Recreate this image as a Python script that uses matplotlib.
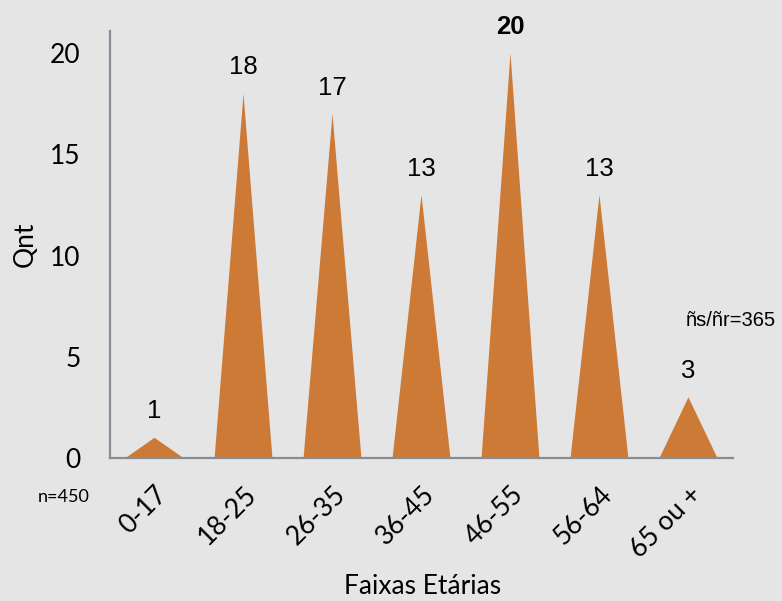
import matplotlib
matplotlib.use("Agg")
import matplotlib.pyplot as plt

# data
faixas = ["0-17", "18-25", "26-35", "36-45", "46-55", "56-64", "65 ou +"]
qnt = [1, 18, 17, 13, 20, 13, 3]
yticks = [0, 5, 10, 15, 20]

bg = "#e5e5e5"
orange = "#cc7a35"
spine = "#868d95"
w = 0.65

fig = plt.figure(figsize=(7.82, 6.01), dpi=100, facecolor=bg)
ax = fig.add_axes([0.1407, 0.2379, 0.7966, 0.7105], facecolor=bg)

# triangle "bars"
for i, v in enumerate(qnt):
    ax.fill([i - w / 2, i, i + w / 2], [0, v, 0], color=orange, lw=0)
    ax.annotate(str(v), (i, v), xytext=(0, 19), textcoords="offset points",
                ha="center", va="center", fontsize=18.5,
                family="Liberation Sans",
                fontweight="bold" if v == max(qnt) else "normal")

ax.set_xlim(-0.5, len(faixas) - 0.5)
ax.set_ylim(0, 21.1)
ax.set_yticks(yticks)
ax.set_xticks(range(len(faixas)))
ax.set_xticklabels(faixas, rotation=45, ha="right", rotation_mode="anchor",
                   family="Lato", fontsize=19)
for t in ax.get_yticklabels():
    t.set_family("Lato")
    t.set_fontsize(19)
ax.tick_params(axis="both", length=0)
ax.tick_params(axis="y", pad=21)
ax.tick_params(axis="x", pad=17)

for s in ["top", "right"]:
    ax.spines[s].set_visible(False)
for s in ["left", "bottom"]:
    ax.spines[s].set_color(spine)
    ax.spines[s].set_linewidth(1.6)

ax.set_xlabel("Faixas Etárias", family="Lato", fontsize=19, va="center")
ax.set_ylabel("Qnt", family="Lato", fontsize=19, va="center")
ax.xaxis.set_label_coords(0.501, -0.302)
ax.yaxis.set_label_coords(-0.136, 0.5)

fig.text(0.082, 0.173, "n=450", family="Lato", fontsize=13, ha="center", va="center")
fig.text(0.877, 0.466, "ñs/ñr=365", family="Liberation Sans", fontsize=14.5,
         ha="left", va="center")

fig.savefig("out.png", dpi=100, facecolor=bg)
